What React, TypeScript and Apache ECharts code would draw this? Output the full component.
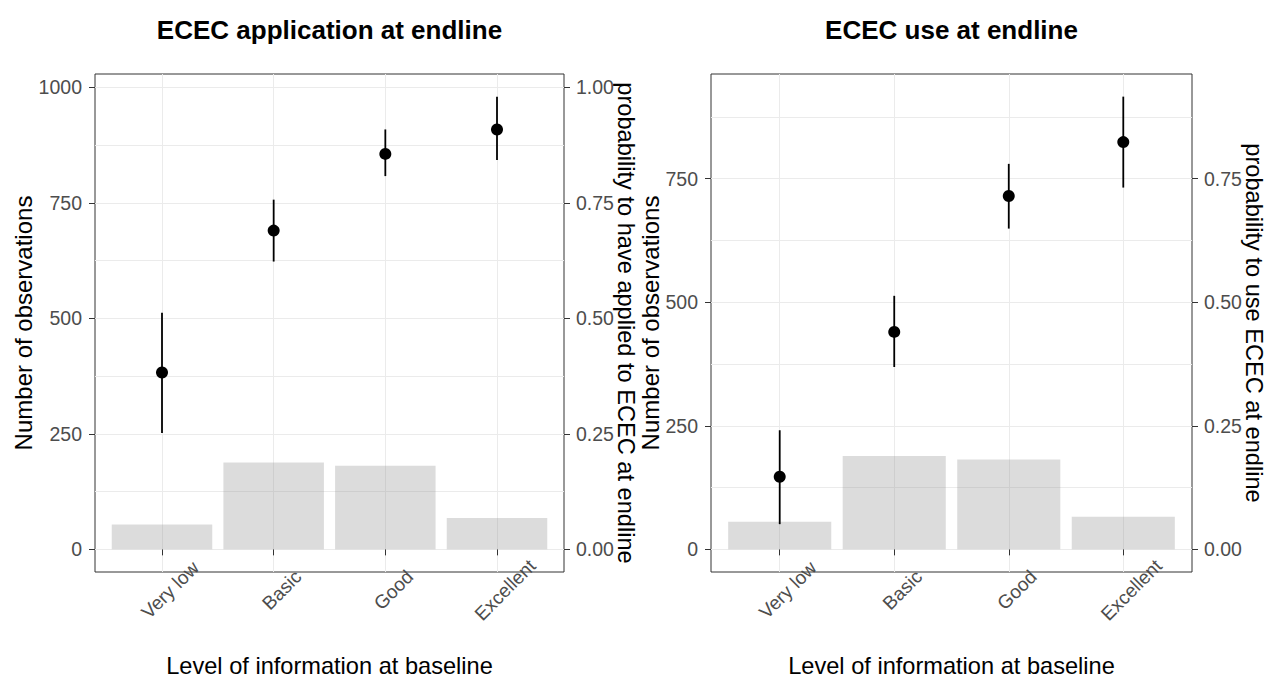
import React, { useEffect, useRef } from "react";
import * as echarts from "echarts";

const categories = ["Very low", "Basic", "Good", "Excellent"];
const categoryPositions = [1, 2, 3, 4];

const appCounts = [54, 188, 181, 68];
const appProb = [0.383, 0.69, 0.856, 0.909];
const appLow = [0.252, 0.623, 0.808, 0.843];
const appHigh = [0.512, 0.757, 0.909, 0.98];

const useCounts = [56, 189, 182, 66];
const useProb = [0.147, 0.44, 0.715, 0.824];
const useLow = [0.051, 0.369, 0.649, 0.732];
const useHigh = [0.241, 0.513, 0.78, 0.916];

const appCountTicks = [0, 250, 500, 750, 1000];
const appProbTicks = [0, 0.25, 0.5, 0.75, 1];
const appGridValues = [0, 125, 250, 375, 500, 625, 750, 875, 1000];
const useCountTicks = [0, 250, 500, 750];
const useProbTicks = [0, 0.25, 0.5, 0.75];
const useGridValues = [0, 125, 250, 375, 500, 625, 750, 875];

const FONT = "'Liberation Sans', Arial, sans-serif";
const SCALE = 1000;

export default function App() {
  const ref = useRef<HTMLDivElement>(null);
  useEffect(() => {
    if (!ref.current) return;
    const chart = echarts.init(ref.current, undefined, { renderer: "svg" });

    const panels = [
      {
        title: "ECEC application at endline",
        left: 95,
        width: 469,
        countGap: 60,
        probGap: 51,
        counts: appCounts,
        prob: appProb,
        low: appLow,
        high: appHigh,
        countTicks: appCountTicks,
        probTicks: appProbTicks,
        gridValues: appGridValues,
        probName: "probability to have applied to ECEC at endline",
      },
      {
        title: "ECEC use at endline",
        left: 711,
        width: 481,
        countGap: 49,
        probGap: 51,
        counts: useCounts,
        prob: useProb,
        low: useLow,
        high: useHigh,
        countTicks: useCountTicks,
        probTicks: useProbTicks,
        gridValues: useGridValues,
        probName: "probability to use ECEC at endline",
      },
    ];

    const top = 74;
    const height = 498;

    const grids: any[] = [];
    const xAxes: any[] = [];
    const yAxes: any[] = [];
    const series: any[] = [];
    const titles: any[] = [];

    panels.forEach((p, i) => {
      const maxData = Math.max(...p.high) * SCALE;
      const yMin = -0.05 * maxData;
      const yMax = 1.05 * maxData;
      grids.push({
        left: p.left,
        top,
        width: p.width,
        height,
        outerBoundsMode: "none",
        containLabel: false,
        show: true,
        borderColor: "#333333",
        borderWidth: 1,
        backgroundColor: "#ffffff",
      });
      titles.push({
        text: p.title,
        left: p.left + p.width / 2 - 5,
        textAlign: "center",
        top: 12,
        textStyle: { fontFamily: FONT, fontSize: 26, fontWeight: "bold", color: "#000" },
      });
      xAxes.push({
        type: "value",
        gridIndex: i,
        min: 0.4,
        max: 4.6,
        name: "Level of information at baseline",
        nameLocation: "middle",
        nameGap: 84,
        nameMoveOverlap: false,
        nameTextStyle: { fontFamily: FONT, fontSize: 23.6, lineHeight: 20, color: "#000" },
        axisLine: { show: false },
        axisTick: {
          show: true,
          length: 6,
          customValues: categoryPositions,
          lineStyle: { color: "#333333" },
        },
        axisLabel: {
          show: true,
          customValues: categoryPositions,
          formatter: (v: number) => categories[Math.round(v) - 1] ?? "",
          rotate: 45,
          align: "center",
          verticalAlign: "middle",
          margin: 26,
          padding: [0, 0, 0, 23],
          fontFamily: FONT,
          fontSize: 19,
          color: "#4d4d4d",
        },
        splitLine: { show: true, lineStyle: { color: "#ebebeb", width: 1 } },
      });
      const base = i * 3;
      yAxes.push({
        type: "value",
        gridIndex: i,
        position: "left",
        min: yMin,
        max: yMax,
        name: "Number of observations",
        nameLocation: "middle",
        nameRotate: 90,
        nameGap: p.countGap,
        nameMoveOverlap: false,
        nameTextStyle: { fontFamily: FONT, fontSize: 24, lineHeight: 24, color: "#000" },
        axisLine: { show: false },
        axisTick: { show: true, length: 6, customValues: p.countTicks, lineStyle: { color: "#333333" } },
        axisLabel: {
          show: true,
          customValues: p.countTicks,
          formatter: (v: number) => String(v),
          margin: 13,
          fontFamily: FONT,
          fontSize: 19.5,
          color: "#4d4d4d",
        },
        splitLine: { show: false },
      });
      yAxes.push({
        type: "value",
        gridIndex: i,
        position: "right",
        min: yMin / SCALE,
        max: yMax / SCALE,
        name: p.probName,
        nameLocation: "middle",
        nameRotate: -90,
        nameGap: p.probGap,
        nameMoveOverlap: false,
        nameTextStyle: { fontFamily: FONT, fontSize: 23.6, lineHeight: 22, color: "#000" },
        axisLine: { show: false },
        axisTick: { show: true, length: 6, customValues: p.probTicks, lineStyle: { color: "#333333" } },
        axisLabel: {
          show: true,
          customValues: p.probTicks,
          formatter: (v: number) => v.toFixed(2),
          margin: 12,
          fontFamily: FONT,
          fontSize: 19.5,
          color: "#4d4d4d",
        },
        splitLine: { show: false },
      });
      yAxes.push({
        type: "value",
        gridIndex: i,
        position: "left",
        min: yMin,
        max: yMax,
        axisLine: { show: false },
        axisTick: { show: false, customValues: p.gridValues },
        axisLabel: { show: false },
        splitLine: { show: true, lineStyle: { color: "#ebebeb", width: 1 } },
      });

      const unit = p.width / 4.2;
      series.push({
        type: "bar",
        xAxisIndex: i,
        yAxisIndex: base,
        barWidth: 0.9 * unit,
        itemStyle: { color: "rgba(140,140,140,0.3)" },
        data: p.counts.map((c, k) => [categoryPositions[k], c]),
        z: 2,
      });
      series.push({
        type: "custom",
        xAxisIndex: i,
        yAxisIndex: base + 1,
        data: p.low.map((lo, k) => [categoryPositions[k], lo, p.high[k]]),
        encode: { x: 0, y: [1, 2] },
        renderItem: (params: any, api: any) => {
          const x = api.value(0);
          const a = api.coord([x, api.value(1)]);
          const b = api.coord([x, api.value(2)]);
          return {
            type: "line",
            shape: { x1: a[0], y1: a[1], x2: b[0], y2: b[1] },
            style: { stroke: "#000", lineWidth: 1.8, opacity: 1 },
          };
        },
        z: 3,
      });
      series.push({
        type: "scatter",
        xAxisIndex: i,
        yAxisIndex: base + 1,
        symbol: "circle",
        symbolSize: 12,
        itemStyle: { color: "#000", opacity: 1 },
        data: p.prob.map((v, k) => [categoryPositions[k], v]),
        z: 4,
      });
    });

    chart.setOption({
      animation: false,
      backgroundColor: "#ffffff",
      textStyle: { fontFamily: FONT },
      title: titles,
      grid: grids,
      xAxis: xAxes,
      yAxis: yAxes,
      series,
    });
    return () => chart.dispose();
  }, []);

  return (
    <div
      ref={ref}
      style={{ position: "fixed", left: 0, top: 0, width: 1268, height: 679 }}
    />
  );
}
